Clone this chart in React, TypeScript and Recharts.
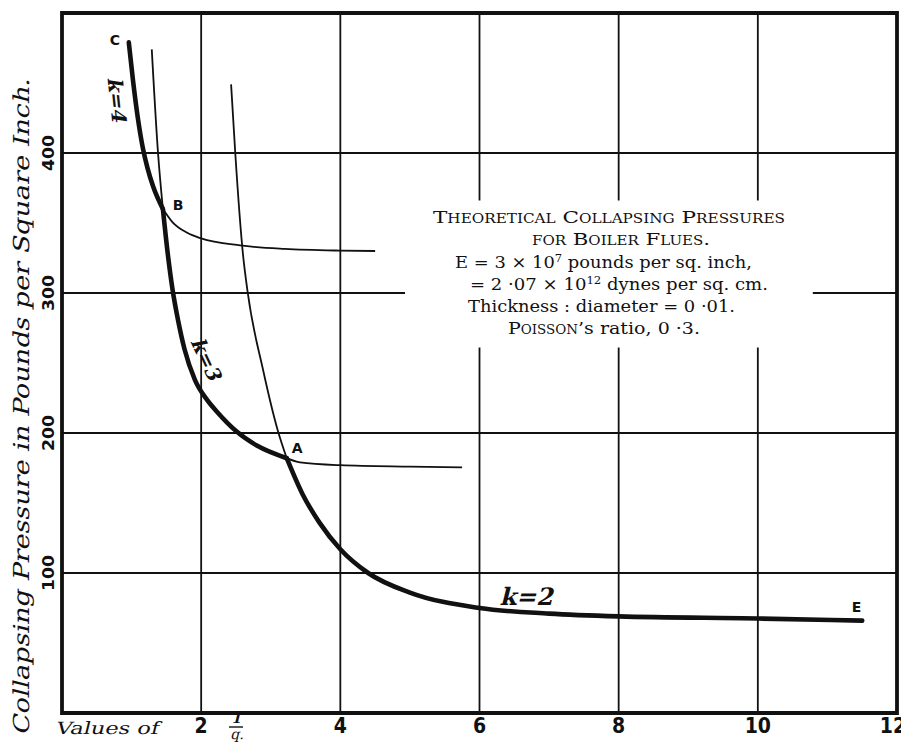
import React from "react";
import {
  ComposedChart,
  Line,
  XAxis,
  YAxis,
  CartesianGrid,
  ReferenceArea,
  ReferenceDot,
} from "recharts";

// x: values of 2/q, y: collapsing pressure in lb per sq. inch
const xTicks = [2, 4, 6, 8, 10, 12];
const yTicks = [100, 200, 300, 400];

// heavy envelope C -> B (k = 4)
const envelopeCB = [
  { q: 0.96, p: 479 },
  { q: 1.02, p: 452 },
  { q: 1.09, p: 425 },
  { q: 1.16, p: 404 },
  { q: 1.23, p: 389 },
  { q: 1.31, p: 376 },
  { q: 1.45, p: 360 },
];
// heavy envelope B -> A (k = 3)
const envelopeBA = [
  { q: 1.45, p: 360 },
  { q: 1.52, p: 328 },
  { q: 1.59, p: 302 },
  { q: 1.67, p: 280 },
  { q: 1.76, p: 260 },
  { q: 1.91, p: 238 },
  { q: 2.08, p: 224 },
  { q: 2.23, p: 215 },
  { q: 2.51, p: 201 },
  { q: 2.8, p: 191 },
  { q: 3.23, p: 182 },
];
// heavy envelope A -> E (k = 2)
const envelopeAE = [
  { q: 3.23, p: 182 },
  { q: 3.45, p: 157 },
  { q: 3.7, p: 136 },
  { q: 4.0, p: 117 },
  { q: 4.4, p: 100 },
  { q: 5.0, p: 86 },
  { q: 6.0, p: 75 },
  { q: 7.0, p: 71 },
  { q: 8.0, p: 69 },
  { q: 10.0, p: 67.5 },
  { q: 11.5, p: 66 },
];

// thin branches
const k4Tail = [
  { q: 1.45, p: 360 },
  { q: 1.59, p: 350.5 },
  { q: 1.8, p: 343 },
  { q: 2.0, p: 339 },
  { q: 2.56, p: 334 },
  { q: 3.2, p: 331.5 },
  { q: 4.0, p: 330.3 },
  { q: 4.5, p: 330 },
];
const k3Head = [
  { q: 1.29, p: 474 },
  { q: 1.38, p: 400 },
  { q: 1.45, p: 360 },
];
const k3Tail = [
  { q: 3.23, p: 182 },
  { q: 3.42, p: 179 },
  { q: 4.0, p: 177 },
  { q: 5.0, p: 176 },
  { q: 5.75, p: 175.5 },
];
const k2Head = [
  { q: 2.43, p: 449 },
  { q: 2.49, p: 400 },
  { q: 2.6, p: 328 },
  { q: 2.67, p: 300 },
  { q: 2.89, p: 245 },
  { q: 3.1, p: 202 },
  { q: 3.23, p: 182 },
];

const ink = "#111";
const serif = "'DejaVu Serif', 'Liberation Serif', serif";
const sans = "'DejaVu Sans Condensed', 'DejaVu Sans', sans-serif";
const slant = "skewX(-14)";

const XTick = ({ x, y, payload }: any) => (
  <text
    x={x}
    y={y + 20}
    textAnchor="middle"
    fontFamily={sans}
    fontWeight="bold"
    fontSize={21}
    fill={ink}
  >
    {payload.value}
  </text>
);

const YTick = ({ x, y, payload }: any) => (
  <text
    x={x - 8}
    y={y}
    transform={`rotate(-90 ${x - 8} ${y})`}
    textAnchor="middle"
    fontFamily={sans}
    fontWeight={600}
    fontSize={16}
    textLength={36}
    lengthAdjust="spacingAndGlyphs"
    fill={ink}
  >
    {payload.value}
  </text>
);

const pointLabel = (value: string) => ({
  value,
  position: "center" as const,
  fill: ink,
  fontFamily: "'DejaVu Sans', sans-serif",
  fontWeight: "bold",
  fontSize: 14,
});

// slanted serif label for the k = ... curve names
const kLabel = (value: string, angle: number, size: number) => (props: any) => {
  const vb = props.viewBox || {};
  return (
    <g transform={`translate(${vb.x},${vb.y}) rotate(${angle})`}>
      <text
        transform={slant}
        x={0}
        y={size * 0.35}
        textAnchor="middle"
        fontFamily={serif}
        fontWeight="bold"
        fontSize={size}
        fill={ink}
      >
        {value}
      </text>
    </g>
  );
};

export default function App() {
  return (
    <div style={{ position: "absolute", left: 0, top: 0, width: 901, height: 750, background: "#fff" }}>
      <ComposedChart
        width={901}
        height={750}
        margin={{ top: 13, right: 4, bottom: 0, left: 0 }}
      >
        <CartesianGrid stroke={ink} strokeWidth={1.8} />
        <XAxis
          dataKey="q"
          type="number"
          domain={[0, 12]}
          ticks={xTicks}
          allowDuplicatedCategory={false}
          axisLine={false}
          tickLine={false}
          tickSize={0}
          tickMargin={0}
          height={37}
          tick={<XTick />}
        />
        <YAxis
          type="number"
          domain={[0, 500]}
          ticks={yTicks}
          axisLine={false}
          tickLine={false}
          tickSize={0}
          tickMargin={0}
          width={62}
          tick={<YTick />}
        />
        <ReferenceArea
          x1={4.93}
          x2={10.79}
          y1={261}
          y2={366}
          fill="#fff"
          fillOpacity={1}
          stroke="none"
          ifOverflow="visible"
        />
        <ReferenceArea
          x1={0}
          x2={12}
          y1={0}
          y2={500}
          fill="none"
          stroke={ink}
          strokeWidth={3.8}
          ifOverflow="visible"
        />
        {[k4Tail, k3Head, k3Tail, k2Head].map((d, i) => (
          <Line
            key={"thin" + i}
            data={d}
            dataKey="p"
            type="monotone"
            stroke={ink}
            strokeWidth={1.8}
            dot={false}
            activeDot={false}
            isAnimationActive={false}
          />
        ))}
        {[envelopeCB, envelopeBA, envelopeAE].map((d, i) => (
          <Line
            key={"env" + i}
            data={d}
            dataKey="p"
            type="monotone"
            stroke={ink}
            strokeWidth={4.6}
            strokeLinecap="round"
            dot={false}
            activeDot={false}
            isAnimationActive={false}
          />
        ))}
        <ReferenceDot x={0.76} y={481} r={0} fill="none" stroke="none" label={pointLabel("C")} />
        <ReferenceDot x={1.67} y={363} r={0} fill="none" stroke="none" label={pointLabel("B")} />
        <ReferenceDot x={3.38} y={189} r={0} fill="none" stroke="none" label={pointLabel("A")} />
        <ReferenceDot x={11.42} y={76} r={0} fill="none" stroke="none" label={pointLabel("E")} />
        <ReferenceDot x={0.79} y={437} r={0} fill="none" stroke="none" label={kLabel("k=4", 84, 20)} />
        <ReferenceDot x={2.08} y={252} r={0} fill="none" stroke="none" label={kLabel("k=3", 65, 20)} />
        <ReferenceDot x={6.7} y={83} r={0} fill="none" stroke="none" label={kLabel("k=2", 0, 24)} />
      </ComposedChart>

      <svg
        width={901}
        height={750}
        style={{ position: "absolute", left: 0, top: 0, pointerEvents: "none" }}
      >
        <g transform="translate(29 407) rotate(-90)">
          <text
            transform={slant}
            x={0}
            y={0}
            textAnchor="middle"
            fontFamily={serif}
            fontSize={22}
            textLength={657}
            lengthAdjust="spacingAndGlyphs"
            fill={ink}
          >
            Collapsing Pressure in Pounds per Square Inch.
          </text>
        </g>

        <g transform="translate(55 734)">
          <text transform={slant} x={0} y={0} fontFamily={serif} fontSize={17} textLength={103} lengthAdjust="spacingAndGlyphs" fill={ink}>
            Values of
          </text>
        </g>
        <g transform="translate(236 723)">
          <text transform={slant} x={0} y={0} textAnchor="middle" fontFamily={serif} fontWeight="bold" fontSize={14} fill={ink}>1</text>
        </g>
        <line x1={229} x2={243} y1={727} y2={727} stroke={ink} strokeWidth={1.4} />
        <g transform="translate(237 739)">
          <text transform={slant} x={0} y={0} textAnchor="middle" fontFamily={serif} fontSize={14} fill={ink}>q.</text>
        </g>

        <g fontFamily={serif} fontSize={17} fill={ink}>
          <text x={433} y={223} textLength={352} lengthAdjust="spacingAndGlyphs" style={{ fontVariant: "small-caps" }}>
            Theoretical Collapsing Pressures
          </text>
          <text x={532} y={245} textLength={178} lengthAdjust="spacingAndGlyphs" style={{ fontVariant: "small-caps" }}>
            for Boiler Flues.
          </text>
          <text x={455} y={268} textLength={297} lengthAdjust="spacingAndGlyphs">
            E = 3 × 10<tspan dy={-6} fontSize={11}>7</tspan><tspan dy={6}> pounds per sq. inch,</tspan>
          </text>
          <text x={470} y={290} textLength={298} lengthAdjust="spacingAndGlyphs">
            = 2 ·07 × 10<tspan dy={-6} fontSize={11}>12</tspan><tspan dy={6}> dynes per sq. cm.</tspan>
          </text>
          <text x={468} y={312} textLength={267} lengthAdjust="spacingAndGlyphs">
            Thickness : diameter = 0 ·01.
          </text>
          <text x={508} y={334} textLength={192} lengthAdjust="spacingAndGlyphs">
            <tspan style={{ fontVariant: "small-caps" }}>Poisson</tspan>’s ratio, 0 ·3.
          </text>
        </g>
      </svg>
    </div>
  );
}
